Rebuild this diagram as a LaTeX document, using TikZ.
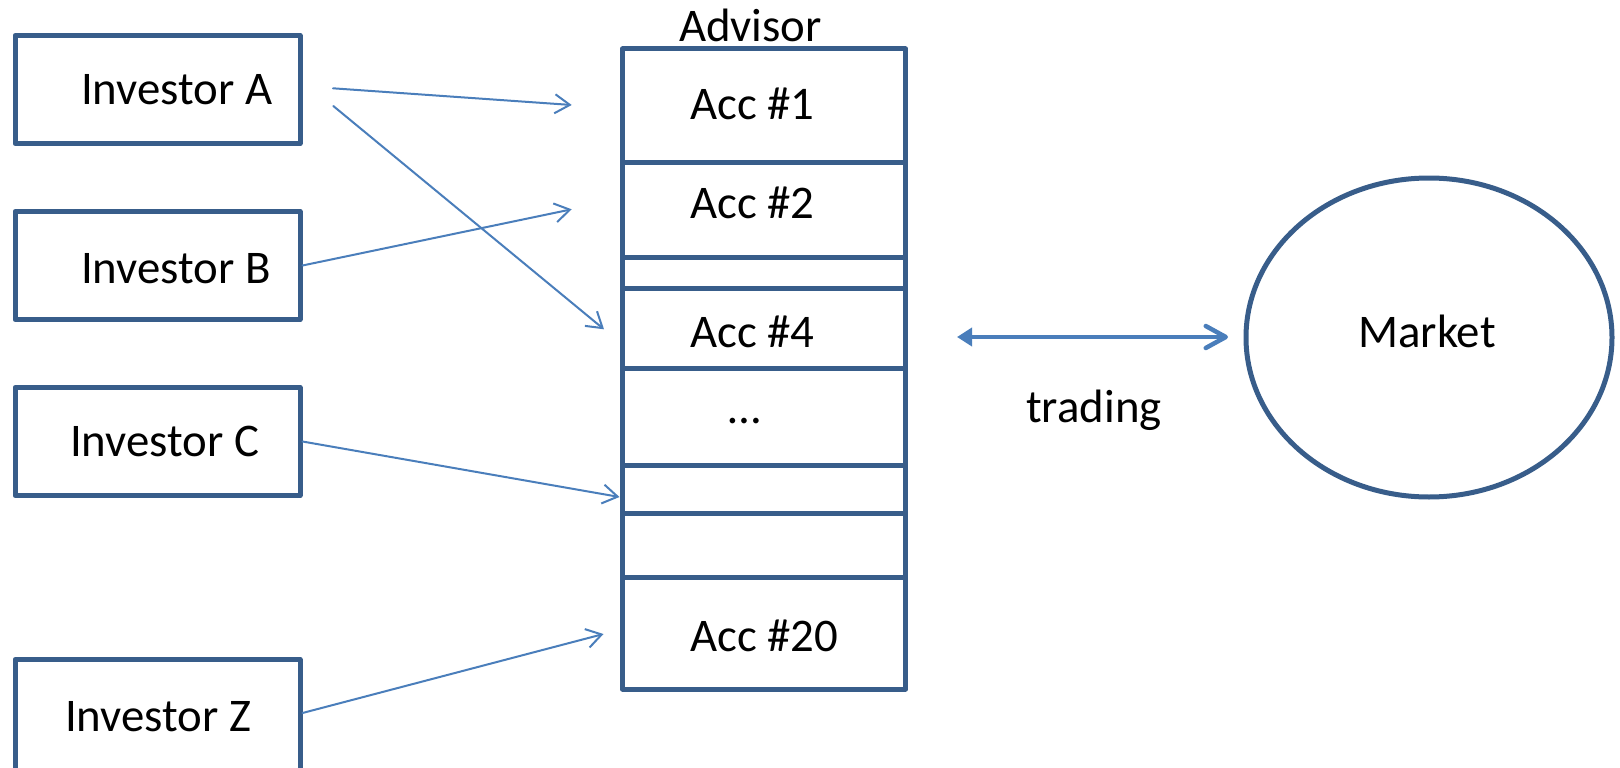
\documentclass[tikz,border=0pt]{standalone}
\usepackage{fontspec}
\setmainfont{Carlito}
\usetikzlibrary{arrows.meta,shapes.geometric}
\definecolor{boxblue}{HTML}{385D8A}
\definecolor{arrblue}{HTML}{4A7EBB}
\begin{document}
\begin{tikzpicture}[x=1pt,y=-1pt,
  inv/.style={draw=boxblue, line width=5pt, line join=round, rectangle, inner sep=0pt, minimum width=285pt, minimum height=108pt},
  row/.style={draw=boxblue, line width=5pt, line join=round, rectangle, inner sep=0pt, minimum width=283pt},
  lbl/.style={font=\fontsize{46.8}{56}\selectfont, inner sep=0pt, anchor=base west},
  clbl/.style={font=\fontsize{46.8}{56}\selectfont, inner sep=0pt, anchor=base},
  thinarrow/.style={arrblue, line width=2pt, line cap=round, -{Straight Barb[length=15pt,width=19pt]}},
  tradearrow/.style={arrblue, line width=4.5pt, {Triangle[length=15pt,width=18pt]}-{Straight Barb[length=20pt,width=22pt,round]}},
]
\useasboundingbox (0,0) rectangle (1620,768);

% investor boxes
\node[inv] (invA) at (157.5,89.5) {};
\node[inv] (invB) at (157.5,265.5) {};
\node[inv] (invC) at (157.5,441.5) {};
\node[inv, minimum height=118pt] (invZ) at (157.5,718.5) {};
\node[lbl] (tA) at (81,104) {Investor A};
\node[lbl] (tB) at (81,283) {Investor B};
\node[lbl] (tC) at (70,456) {Investor C};
\node[lbl] (tZ) at (65,731) {Investor Z};

% advisor stack
\node[clbl] (advisor) at (750.5,42) {Advisor};
\node[row, minimum height=113pt] (acc1) at (764,105.5) {};
\node[row, minimum height=95pt] (acc2) at (764,209.5) {};
\node[row, minimum height=31pt] (acc3) at (764,272.5) {};
\node[row, minimum height=80pt] (acc4) at (764,328) {};
\node[row, minimum height=97pt] (accdots) at (764,416.5) {};
\node[row, minimum height=48pt] (acc6) at (764,489) {};
\node[row, minimum height=64pt] (acc7) at (764,545) {};
\node[row, minimum height=112pt] (acc20) at (764,633) {};
\node[lbl] (t1) at (690,119) {Acc \#1};
\node[lbl] (t2) at (690,218) {Acc \#2};
\node[lbl] (t4) at (690,347) {Acc \#4};
\node[clbl] (tdots) at (745,423) {…};
\node[lbl] (t20) at (690,651) {Acc \#20};

% market
\node[ellipse, draw=boxblue, line width=5pt, inner sep=0pt, minimum width=366pt, minimum height=319pt] (market) at (1429,337.5) {};
\node[clbl] (tmarket) at (1427,347) {Market};
\node[clbl] (ttrading) at (1094,422) {trading};

% connector ends
\coordinate (a1s) at (333,88.3);
\coordinate (a1e) at (571.7,105);
\coordinate (a4s) at (333.3,106);
\coordinate (a4e) at (604,329.3);
\coordinate (b2e) at (571.7,209.3);
\coordinate (cse) at (619.5,497);
\coordinate (zs) at (302.5,713);
\coordinate (z20e) at (603.5,634);
\coordinate (trl) at (957,337);
\coordinate (trr) at (1228,337);

\draw[thinarrow] (a1s) -- (a1e);
\draw[thinarrow] (a4s) -- (a4e);
\draw[thinarrow] (invB.east) -- (b2e);
\draw[thinarrow] (invC.east) -- (cse);
\draw[thinarrow] (zs) -- (z20e);
\draw[tradearrow] (trl) -- (trr);
\end{tikzpicture}
\end{document}
